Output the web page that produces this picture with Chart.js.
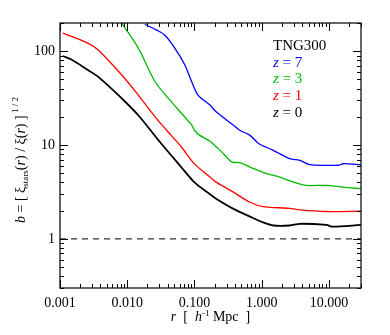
<!DOCTYPE html>
<html>
<head>
<meta charset="utf-8">
<script src="https://cdn.jsdelivr.net/npm/chart.js@4.4.1/dist/chart.umd.min.js"></script>
<style>
html,body{margin:0;padding:0;background:#fff;}
canvas{display:block;}
</style>
</head>
<body>
<canvas id="c" width="390" height="335" style="width:390px;height:335px"></canvas>
<script>
// ---- data ----
const xTickValues = [0.001, 0.01, 0.1, 1, 10];
const yTickValues = [1, 10, 100];

const rZ7 = [0.0183, 0.027, 0.036, 0.051, 0.072, 0.091, 0.113, 0.17, 0.21, 0.38, 0.47, 0.67, 0.90, 1.48, 2.6, 3.7, 5.2, 9.2, 14, 16.3, 30];
const bZ7 = [194, 169, 149, 108, 71.3, 47.3, 34.1, 26.7, 22.6, 16.3, 14.4, 12.7, 10.4, 8.8, 7.17, 6.88, 6.18, 6.08, 6.1, 6.33, 6.18];

const rZ3 = [0.0083, 0.0146, 0.026, 0.0455, 0.091, 0.10, 0.12, 0.17, 0.27, 0.36, 0.47, 0.67, 1.18, 1.87, 2.95, 4.67, 9.2, 16.3, 30];
const bZ3 = [199, 108, 47.3, 28.9, 16.3, 14.4, 12.7, 11.0, 8.1, 6.6, 6.5, 5.83, 4.96, 4.56, 4.03, 3.72, 3.72, 3.56, 3.43];

const rZ1 = [0.0011, 0.0026, 0.0037, 0.0083, 0.0146, 0.026, 0.0385, 0.064, 0.10, 0.17, 0.21, 0.38, 0.67, 1.05, 2.6, 3.7, 9.2, 30];
const bZ1 = [156, 122, 103, 55.8, 34.1, 20, 14.4, 9.55, 6.3, 4.56, 4.03, 3.15, 2.46, 2.21, 2.12, 2.04, 1.96, 1.98];

const rZ0 = [0.0011, 0.0015, 0.0026, 0.0035, 0.0047, 0.0083, 0.0146, 0.032, 0.064, 0.10, 0.17, 0.21, 0.38, 0.67, 1.05, 1.5, 2.6, 3.7, 9.2, 11.4, 30];
const bZ0 = [89, 81, 63, 55, 46, 31.4, 20.8, 10.4, 5.8, 4.0, 3.0, 2.68, 2.09, 1.73, 1.5, 1.39, 1.39, 1.45, 1.41, 1.35, 1.41];

const refR = [0.001, 30];
const refB = [1, 1];

const seriesNames = ['z = 7', 'z = 3', 'z = 1', 'z = 0'];
const seriesColors = ['#0000ff', '#00bb00', '#ff0000', '#000000'];
const titleText = 'TNG300';

const pts = (xs, ys) => xs.map((x, i) => ({x: x, y: ys[i]}));

const SERIF = "'Liberation Serif', 'DejaVu Serif', serif";

function drawRich(ctx, segs, x, y, base) {
  let total = 0;
  const ws = segs.map(s => {
    ctx.font = (s.it ? 'italic ' : '') + (s.sz || base) + 'px ' + SERIF;
    const w = ctx.measureText(s.t).width;
    total += w;
    return w;
  });
  let cx = x - total / 2;
  segs.forEach((s, i) => {
    ctx.font = (s.it ? 'italic ' : '') + (s.sz || base) + 'px ' + SERIF;
    ctx.fillText(s.t, cx, y + (s.dy || 0));
    cx += ws[i];
  });
}

const decorPlugin = {
  id: 'decor',
  afterDraw(chart) {
    const ctx = chart.ctx;
    const a = chart.chartArea;
    const xs = chart.scales.x, ys = chart.scales.y;
    ctx.save();
    ctx.strokeStyle = '#000';
    ctx.lineWidth = 1.2;
    ctx.strokeRect(a.left, a.top, a.right - a.left, a.bottom - a.top);
    ctx.lineWidth = 1;
    ctx.beginPath();
    for (let e = -3; e <= 1; e++) {
      for (let k = 1; k <= 9; k++) {
        const v = k * Math.pow(10, e);
        if (v < xs.min * 0.999 || v > xs.max * 1.001) continue;
        const px = Math.round(xs.getPixelForValue(v)) + 0.5;
        const len = k === 1 ? 8 : 4;
        ctx.moveTo(px, a.bottom); ctx.lineTo(px, a.bottom - len);
        ctx.moveTo(px, a.top); ctx.lineTo(px, a.top + len);
      }
    }
    for (let e = -1; e <= 2; e++) {
      for (let k = 1; k <= 9; k++) {
        const v = k * Math.pow(10, e);
        if (v < ys.min * 0.999 || v > ys.max * 1.001) continue;
        const py = Math.round(ys.getPixelForValue(v)) + 0.5;
        const len = k === 1 ? 8 : 4;
        ctx.moveTo(a.left, py); ctx.lineTo(a.left + len, py);
        ctx.moveTo(a.right, py); ctx.lineTo(a.right - len, py);
      }
    }
    ctx.stroke();

    ctx.textBaseline = 'alphabetic';
    ctx.textAlign = 'left';
    ctx.fillStyle = '#000';
    ctx.font = '15px ' + SERIF;
    const lx = 273;
    ctx.fillText(titleText, lx, 50);
    const bases = [66.5, 83.3, 100, 116.7];
    seriesNames.forEach((n, i) => {
      ctx.fillStyle = seriesColors[i];
      ctx.font = 'italic 15px ' + SERIF;
      ctx.fillText('z', lx, bases[i]);
      const w = ctx.measureText('z').width;
      ctx.font = '15px ' + SERIF;
      ctx.fillText(n.slice(1), lx + w, bases[i]);
    });

    ctx.fillStyle = '#000';
    drawRich(ctx, [
      {t: 'r', it: true}, {t: '  [  '}, {t: 'h', it: true}, {t: '-1', sz: 9, dy: -5}, {t: ' Mpc  ]'}
    ], (a.left + a.right) / 2, 321, 14);

    ctx.translate(25, 160);
    ctx.rotate(-Math.PI / 2);
    drawRich(ctx, [
      {t: 'b', it: true}, {t: ' = [ ξ'}, {t: 'stars', sz: 9, dy: 3}, {t: '('}, {t: 'r', it: true},
      {t: ') / ξ('}, {t: 'r', it: true}, {t: ') ]'}, {t: ' 1 / 2', sz: 9, dy: -7}
    ], 0, 0, 14);
    ctx.restore();
  }
};

const lineDs = (label, xs, ys, color, w) => ({
  label: label, data: pts(xs, ys), borderColor: color, backgroundColor: color,
  borderWidth: w, pointRadius: 0, fill: false, tension: 0.3
});

new Chart(document.getElementById('c'), {
  type: 'line',
  data: {
    datasets: [
      lineDs(seriesNames[3], rZ0, bZ0, seriesColors[3], 1.8),
      lineDs(seriesNames[2], rZ1, bZ1, seriesColors[2], 1.3),
      lineDs(seriesNames[1], rZ3, bZ3, seriesColors[1], 1.3),
      lineDs(seriesNames[0], rZ7, bZ7, seriesColors[0], 1.3),
      {label: 'b = 1', data: pts(refR, refB), borderColor: '#333', borderWidth: 1.2,
       borderDash: [6, 5], pointRadius: 0, fill: false}
    ]
  },
  options: {
    animation: false,
    responsive: false,
    devicePixelRatio: 1,
    layout: {padding: {top: 23, right: 29, left: 0, bottom: 0}},
    plugins: {legend: {display: false}, tooltip: {enabled: false}},
    scales: {
      x: {
        type: 'logarithmic', min: 0.001, max: 30,
        grid: {display: false, drawTicks: false},
        border: {display: false},
        afterBuildTicks: s => { s.ticks = xTickValues.map(v => ({value: v})); },
        afterFit: s => { s.height = 47; },
        ticks: {
          color: '#000', padding: 7, maxRotation: 0, autoSkip: false,
          font: {family: SERIF, size: 14},
          callback: v => Number(v).toFixed(3)
        }
      },
      y: {
        type: 'logarithmic', min: 0.3, max: 200,
        grid: {display: false, drawTicks: false},
        border: {display: false},
        afterBuildTicks: s => { s.ticks = yTickValues.map(v => ({value: v})); },
        afterFit: s => { s.width = 60; },
        ticks: {
          color: '#000', padding: 5, autoSkip: false,
          font: {family: SERIF, size: 14},
          callback: v => String(v)
        }
      }
    }
  },
  plugins: [decorPlugin]
});
</script>
</body>
</html>
